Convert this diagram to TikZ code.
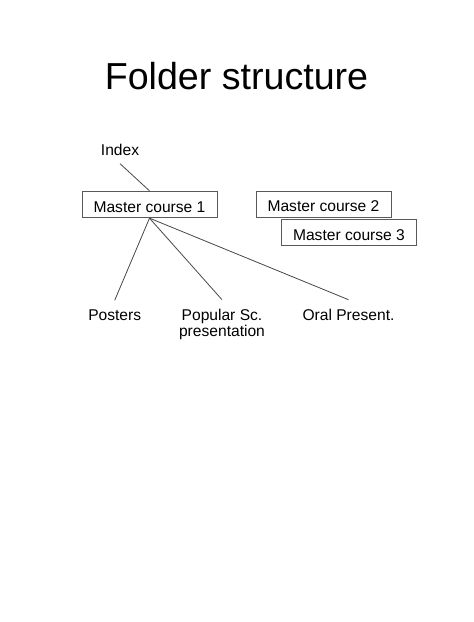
\documentclass[tikz,border=0pt]{standalone}
\usepackage{fontspec}
\setmainfont{Liberation Sans}
\begin{document}
\begin{tikzpicture}[x=1pt,y=-1pt,
  conn/.style={draw=black!72,line width=0.8pt},
  boxnode/.style={draw=black!65,line width=0.8pt,minimum width=135pt,minimum height=26.5pt,inner sep=0pt,text height=15pt,text depth=0pt,font=\fontsize{15.6}{16.7}\selectfont},
  lbl/.style={inner xsep=0pt,inner ysep=8.8pt,align=center,anchor=base,font=\fontsize{15.6}{16.7}\selectfont}]
\useasboundingbox[fill=white] (0,0) rectangle (474,622);
\node[anchor=base,font=\fontsize{37.6}{40}\selectfont,inner sep=0pt] (title) at (236.5,89.3) {Folder structure};
\node[anchor=base,inner xsep=0pt,inner ysep=7.6pt,font=\fontsize{15.6}{16.7}\selectfont] (idx) at (120,155.7) {Index};
\node[boxnode] (mc1) at (149.5,204.5) {Master course 1};
\node[boxnode] (mc2) at (323.5,204.4) {Master course 2};
\node[boxnode] (mc3) at (349,232.5) {Master course 3};
\node[lbl] (post) at (114.7,320) {Posters};
\node[lbl] (pop) at (222,336.7) {Popular Sc.\\presentation};
\node[lbl] (oral) at (348.5,320) {Oral Present.};
\draw[conn] (idx.south) -- (mc1.north);
\draw[conn] (mc1.south) -- (post.north);
\draw[conn] (mc1.south) -- (pop.north);
\draw[conn] (mc1.south) -- (oral.north);
\end{tikzpicture}
\end{document}
